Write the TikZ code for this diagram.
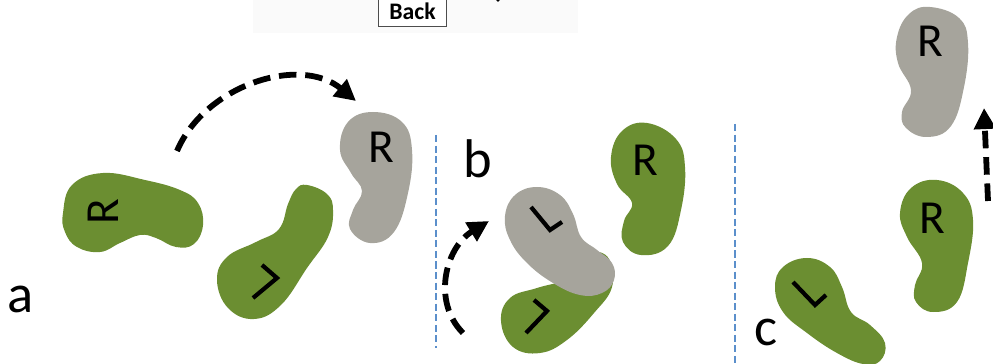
\documentclass[tikz,border=0pt]{standalone}
\usepackage{fontspec}
\setmainfont{Carlito}
\usetikzlibrary{arrows.meta}
\definecolor{leaf}{HTML}{6B8E31}
\definecolor{stone}{HTML}{A6A49C}
\definecolor{divblue}{HTML}{5B8FCB}
\tikzset{
 greenblob/.style={fill=leaf, draw=none},
 grayblob/.style={fill=stone, draw=none},
 lett/.style={font=\fontsize{27}{27}\selectfont, inner sep=0pt},
 panel/.style={font=\fontsize{31}{31}\selectfont, inner sep=0pt, anchor=base},
 lmark/.style={line width=2.4pt, line cap=butt, line join=miter},
 movearrow/.style={line width=3.3pt, dash pattern=on 10pt off 5pt, -{Triangle[length=12pt,width=12pt]}},
 divider/.style={divblue, line width=0.9pt, dash pattern=on 4pt off 2pt},
}
\begin{document}
\begin{tikzpicture}[x=0.02cm,y=-0.02cm]
\useasboundingbox (0,0) rectangle (993,364);
% top strip with Back button
\fill[black!2] (253,0) rectangle (578,33);
\node[draw=black!70, line width=0.5pt, fill=white, minimum width=1.36cm, minimum height=0.6cm,
      font=\fontsize{13.5}{13.5}\bfseries\selectfont, inner sep=0pt] (back) at (412.5,11) {Back};
\fill (498,0) circle (1.8);

% dividers
\coordinate (d1t) at (436,135); \coordinate (d1b) at (436,348);
\coordinate (d2t) at (735,124); \coordinate (d2b) at (735,364);
\draw[divider] (d1t) -- (d1b);
\draw[divider] (d2t) -- (d2b);

% ---------- panel a ----------
\fill[greenblob] plot[smooth cycle, tension=0.7] coordinates {
 (63,213) (72,185) (103,173) (145,180) (180,190) (198,203) (203,225) (194,244) (176,247)
 (156,238) (140,235) (120,243) (100,252) (77,247) (65,232)};
\node[lett, rotate=90] (ra) at (103,212) {R};

\fill[greenblob] plot[smooth cycle, tension=0.7] coordinates {
 (307,185) (327,194) (333,210) (328,237) (307,268) (281,305) (254,319) (228,308) (217,280)
 (227,257) (256,242) (279,229) (288,204) (296,189)};
\draw[lmark] (262,265) -- (277,278) -- (253,298);

\fill[grayblob] plot[smooth cycle, tension=0.7] coordinates {
 (373,112) (402,122) (412,150) (408,193) (394,232) (370,243) (350,229) (353,210) (362,191)
 (351,173) (340,150) (348,122)};
\node[lett] (rg) at (381,147) {R};

\coordinate (aa) at (177,151); \coordinate (ab) at (356,101);
\draw[movearrow] (aa) .. controls (205,85) and (300,55) .. (ab);
\node[panel] (la) at (21,313) {a};

% ---------- panel b ----------
\fill[greenblob] plot[smooth cycle, tension=0.7] coordinates {
 (647,123) (676,139) (685,167) (681,210) (668,246) (641,255) (623,242) (624,221) (632,203)
 (617,184) (611,157) (622,131)};
\node[lett] (rb) at (645,160) {R};

\fill[greenblob] plot[smooth cycle, tension=0.7] coordinates {
 (593,252) (609,259) (612,287) (594,313) (567,340) (540,353) (513,347) (501,321) (510,298)
 (537,288) (567,279) (583,263)};
\draw[lmark] (534,300) -- (547,311) -- (526,333);

\fill[grayblob] plot[smooth cycle, tension=0.7] coordinates {
 (537,187) (560,195) (573,214) (581,237) (597,250) (612,263) (614,280) (602,293) (580,295)
 (553,283) (527,263) (510,240) (505,216) (515,195)};
\draw[lmark] (531,207) -- (550,230) -- (562,222);

\coordinate (ba) at (463,333); \coordinate (bb) at (489,221);
\draw[movearrow] (ba) .. controls (432,302) and (445,248) .. (bb);
\node[panel] (lb) at (478,178) {b};

% ---------- panel c ----------
\fill[grayblob] plot[smooth cycle, tension=0.7] coordinates {
 (930,7) (959,18) (968,43) (964,87) (951,126) (927,137) (906,128) (902,112) (911,90)
 (898,63) (897,37) (909,14)};
\node[lett] (rc1) at (930,41) {R};

\fill[greenblob] plot[smooth cycle, tension=0.7] coordinates {
 (937,180) (963,193) (973,220) (968,263) (957,302) (933,312) (916,302) (915,285) (922,263)
 (907,237) (900,213) (911,188)};
\node[lett] (rc2) at (932,218) {R};

\fill[greenblob] plot[smooth cycle, tension=0.7] coordinates {
 (807,258) (830,267) (842,287) (851,312) (870,325) (885,343) (880,361) (863,364) (837,353)
 (807,333) (783,312) (775,287) (783,267)};
\draw[lmark] (793,282) -- (815,305) -- (826,295);

\coordinate (ca) at (988,201); \coordinate (cb) at (984,108);
\draw[movearrow] (ca) -- (cb);
\node[panel] (lc) at (766,345) {c};
\end{tikzpicture}
\end{document}
